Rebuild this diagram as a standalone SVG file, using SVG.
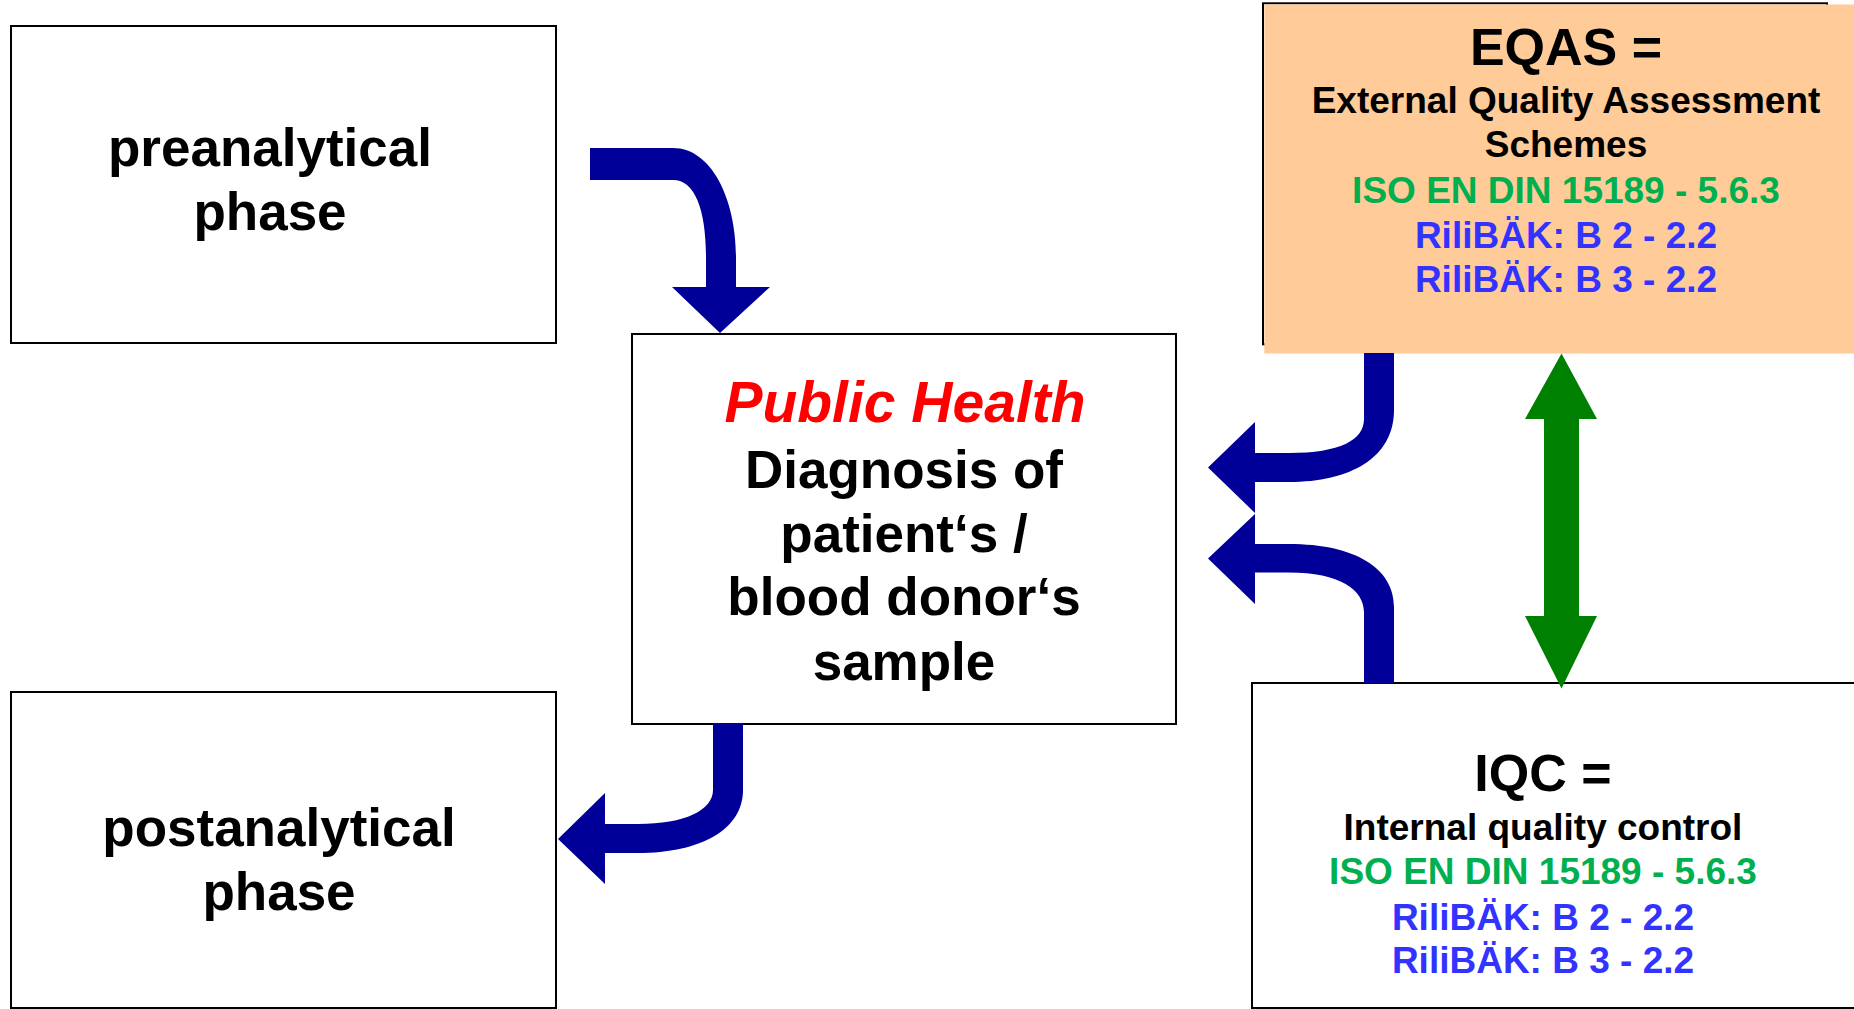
<svg xmlns="http://www.w3.org/2000/svg" width="1854" height="1009" viewBox="0 0 1854 1009">
<style>
.box{fill:#ffffff;stroke:#000000;stroke-width:2}
.t{font-family:"Liberation Sans",Arial,sans-serif;font-weight:bold;text-anchor:middle}
.big{font-size:53px;fill:#000}
.mid{font-size:37px;fill:#000}
.iso{font-size:37px;fill:#00B050}
.rili{font-size:37px;fill:#3333FF}
.blue{fill:#000099}
.green{fill:#008000}
</style>
<rect x="0" y="0" width="1854" height="1009" fill="#ffffff"/>
<g id="preanalytical">
<rect class="box" x="11" y="26" width="545" height="317"/>
<text class="t big" x="270" y="166">preanalytical</text>
<text class="t big" x="270" y="230">phase</text>
</g>
<g id="postanalytical">
<rect class="box" x="11" y="692" width="545" height="316"/>
<text class="t big" x="279" y="846">postanalytical</text>
<text class="t big" x="279" y="910">phase</text>
</g>
<g id="publichealth">
<rect class="box" x="632" y="334" width="544" height="390"/>
<text class="t" x="905" y="422" font-size="57" font-style="italic" fill="#FF0000">Public Health</text>
<text class="t big" x="904" y="488">Diagnosis of</text>
<text class="t big" x="904" y="552">patient‘s /</text>
<text class="t big" x="904" y="615">blood donor‘s</text>
<text class="t big" x="904" y="680">sample</text>
</g>
<g id="eqas">
<rect x="1263" y="3.3" width="564" height="341" fill="none" stroke="#000" stroke-width="2"/>
<rect x="1264.3" y="4.5" width="600" height="349" fill="#FFCC99"/>
<text class="t" x="1566" y="65" font-size="52" fill="#000">EQAS =</text>
<text class="t mid" x="1566" y="113">External Quality Assessment</text>
<text class="t mid" x="1566" y="157">Schemes</text>
<text class="t iso" x="1566" y="203">ISO EN DIN 15189 - 5.6.3</text>
<text class="t rili" x="1566" y="248">RiliBÄK: B 2 - 2.2</text>
<text class="t rili" x="1566" y="292">RiliBÄK: B 3 - 2.2</text>
</g>
<g id="iqc">
<rect class="box" x="1252" y="683" width="640" height="325"/>
<text class="t" x="1543" y="791" font-size="52" fill="#000">IQC =</text>
<text class="t mid" x="1543" y="840">Internal quality control</text>
<text class="t iso" x="1543" y="884">ISO EN DIN 15189 - 5.6.3</text>
<text class="t rili" x="1543" y="930">RiliBÄK: B 2 - 2.2</text>
<text class="t rili" x="1543" y="973">RiliBÄK: B 3 - 2.2</text>
</g>
<g id="connectors">
<path class="blue" d="M590,148 L673,148 C712,148 736,200 736,257 L736,287 L770,287 L720,333 L672,287 L706,287 L706,257 C706,210 695,180 673,180 L590,180 Z"/>
<path class="blue" d="M713,723 L743,723 L743,790 C743,830 700,853 638,853 L605,853 L605,884 L558,839 L605,793 L605,824 L638,824 C685,824 713,810 713,790 Z"/>
<path class="blue" d="M1364,353 L1394,353 L1394,410 C1394,458 1350,482 1289,482 L1255,482 L1255,513 L1208,467.5 L1255,422 L1255,453 L1289,453 C1340,453 1364,440 1364,419 Z"/>
<path class="blue" d="M1364,683 L1394,683 L1394,607 C1394,568 1355,544 1289,544 L1255,544 L1255,514 L1208,558.5 L1255,604 L1255,572.5 L1289,572.5 C1340,572.5 1364,590 1364,612 Z"/>
<path class="green" d="M1561.5,353.5 L1597,419 L1579,419 L1579,616 L1597,616 L1561.5,688.5 L1525,616 L1544,616 L1544,419 L1525,419 Z"/>
</g>
</svg>
